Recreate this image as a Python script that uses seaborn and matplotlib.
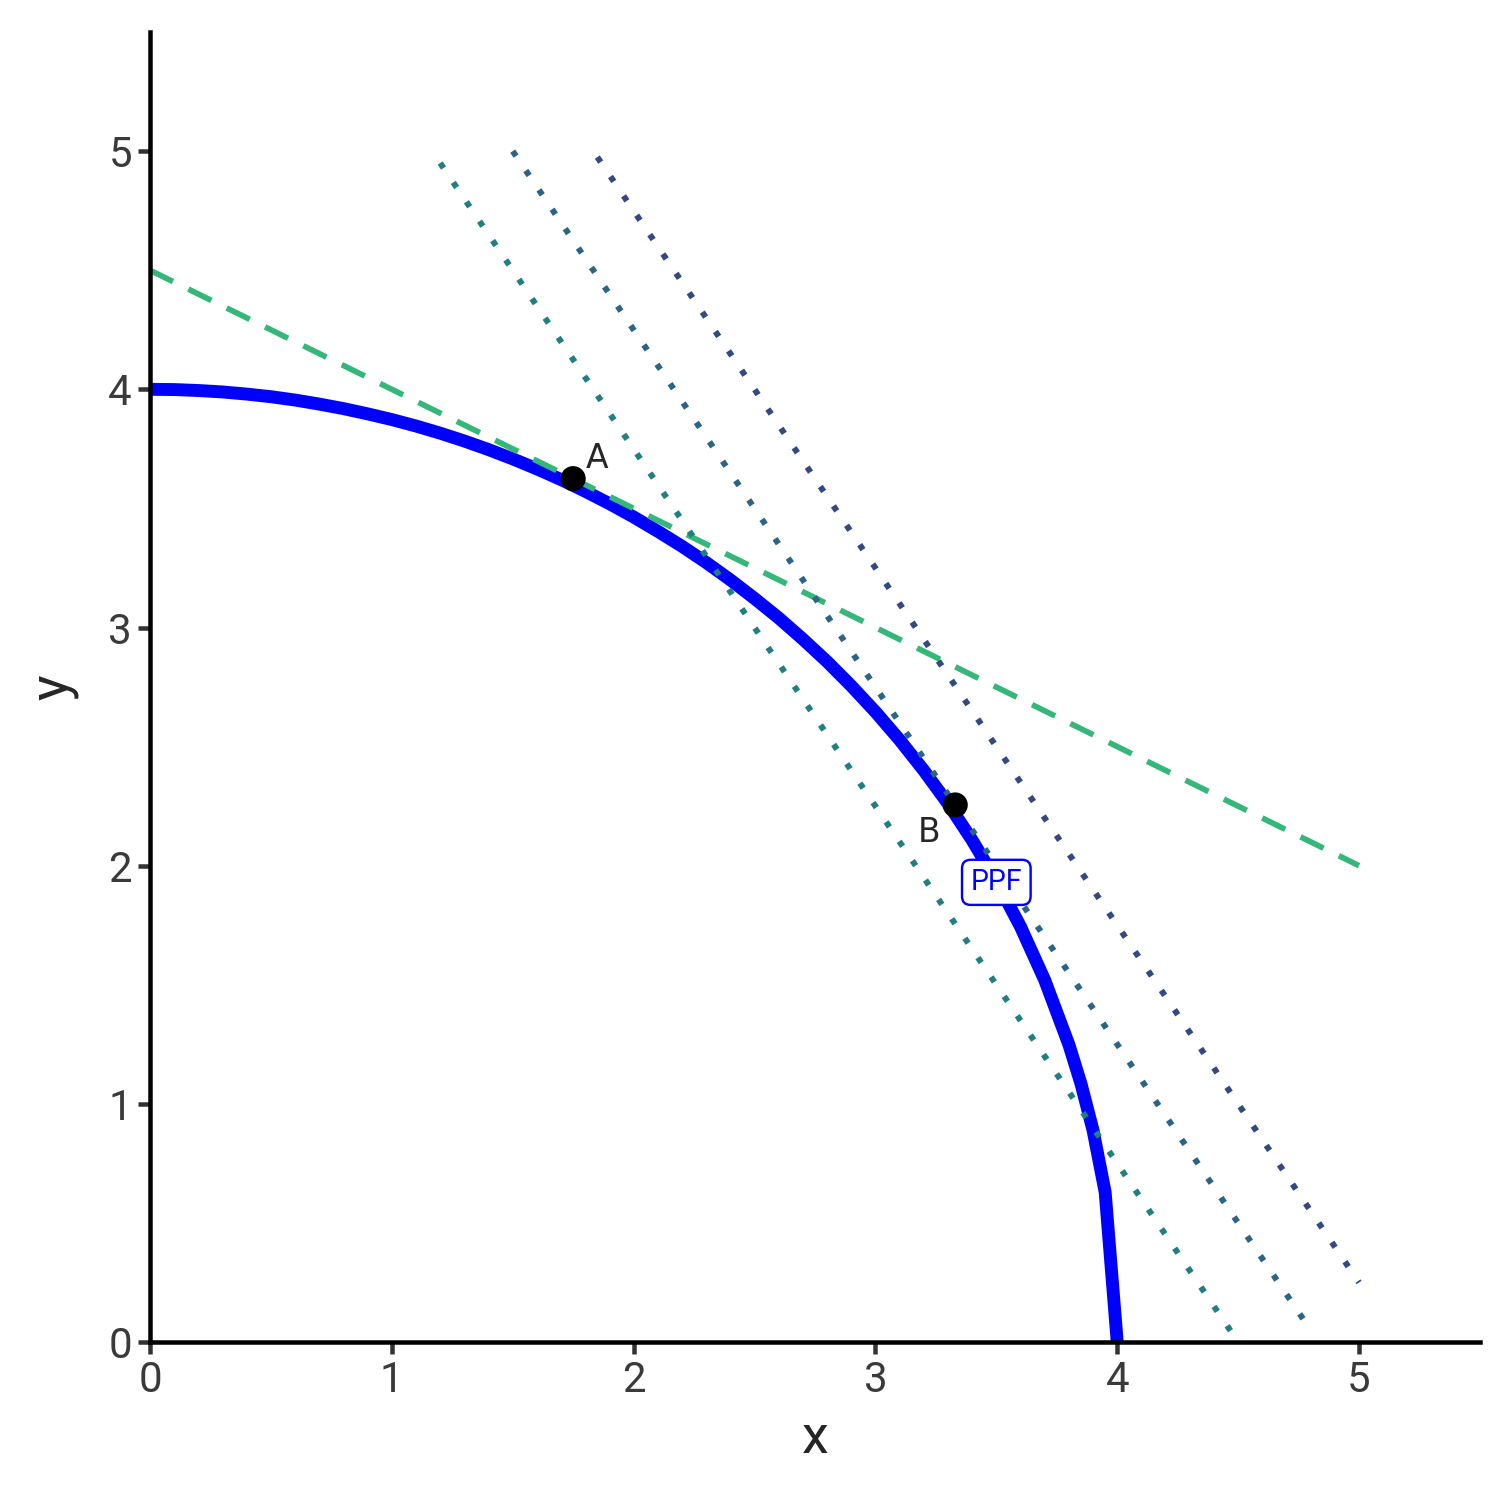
import numpy as np
import pandas as pd
import seaborn as sns
import matplotlib.pyplot as plt

# PPF curve
ppf_x = [0, 0.1, 0.2, 0.3, 0.4, 0.5, 0.6, 0.7, 0.8, 0.9, 1.0, 1.1, 1.2, 1.3,
         1.4, 1.5, 1.6, 1.7, 1.8, 1.9, 2.0, 2.1, 2.2, 2.3, 2.4, 2.5, 2.6, 2.7,
         2.8, 2.9, 3.0, 3.1, 3.2, 3.3, 3.4, 3.5, 3.6, 3.7, 3.8, 3.85, 3.9,
         3.95, 4.0]
ppf_y = [4.0, 3.999, 3.995, 3.989, 3.98, 3.969, 3.955, 3.938, 3.919, 3.897,
         3.873, 3.846, 3.816, 3.783, 3.747, 3.708, 3.666, 3.621, 3.572, 3.52,
         3.464, 3.404, 3.341, 3.273, 3.2, 3.122, 3.04, 2.951, 2.857, 2.755,
         2.646, 2.528, 2.4, 2.261, 2.107, 1.936, 1.744, 1.52, 1.249, 1.085,
         0.889, 0.63, 0.0]

# tangent at A (dashed)
tan_x = [0, 5]
tan_y = [4.5, 2.0]

# iso lines with slope -1.5 (dotted)
iso1_x, iso1_y = [1.2, 4.5], [4.95, 0.0]
iso2_x, iso2_y = [1.5, 4.8], [5.0, 0.05]
iso3_x, iso3_y = [1.85, 5.0], [4.975, 0.25]

# points
pt_names = ['A', 'B']
pt_x = [1.75, 3.33]
pt_y = [3.625, 2.255]

sns.set_style('ticks')
plt.rcParams['font.family'] = ['Roboto', 'DejaVu Sans']

fig = plt.figure(figsize=(7, 7), dpi=216)
ax = fig.add_axes([0.0992, 0.1124, 0.8796, 0.8664])

ppf = pd.DataFrame({'x': ppf_x, 'y': ppf_y})
sns.lineplot(data=ppf, x='x', y='y', sort=False, color='#0000ff', lw=4.3,
             ax=ax)

sns.lineplot(x=tan_x, y=tan_y, color='#35b779', lw=1.9, ax=ax,
             linestyle=(0, (4.5, 3)))
for xs, ys, c in [(iso1_x, iso1_y, '#21807f'), (iso2_x, iso2_y, '#2c6486'),
                  (iso3_x, iso3_y, '#34497f')]:
    sns.lineplot(x=xs, y=ys, color=c, lw=2.0, ax=ax, linestyle=(0, (1, 2.9)))

pts = pd.DataFrame({'x': pt_x, 'y': pt_y, 'name': pt_names})
sns.scatterplot(data=pts, x='x', y='y', color='black', s=70, edgecolor='none',
                zorder=5, ax=ax)
ax.text(1.85, 3.71, 'A', fontsize=11, ha='center', va='center',
        family='DejaVu Sans')
ax.text(3.22, 2.14, 'B', fontsize=11, ha='center', va='center',
        family='DejaVu Sans')
ax.text(3.5, 1.93, 'PPF', fontsize=9.5, color='#0000ff', ha='center',
        va='center', zorder=6,
        bbox=dict(boxstyle='round,pad=0.3,rounding_size=0.3', fc='white',
                  ec='#0000ff', lw=0.8))

ax.set_xlim(0, 5.5)
ax.set_ylim(0, 5.5)
ax.set_xticks([0, 1, 2, 3, 4, 5])
ax.set_yticks([0, 1, 2, 3, 4, 5])
ax.tick_params(length=4, width=1.5, color='#333333', labelsize=14,
               labelcolor='#3a3a3a', pad=2)
for s in ['left', 'bottom']:
    ax.spines[s].set_linewidth(1.5)
    ax.spines[s].set_color('black')
sns.despine(ax=ax)
ax.set_xlabel('x', fontsize=18, labelpad=4)
ax.set_ylabel('y', fontsize=18, labelpad=10)

fig.savefig('out.png', dpi=216)
